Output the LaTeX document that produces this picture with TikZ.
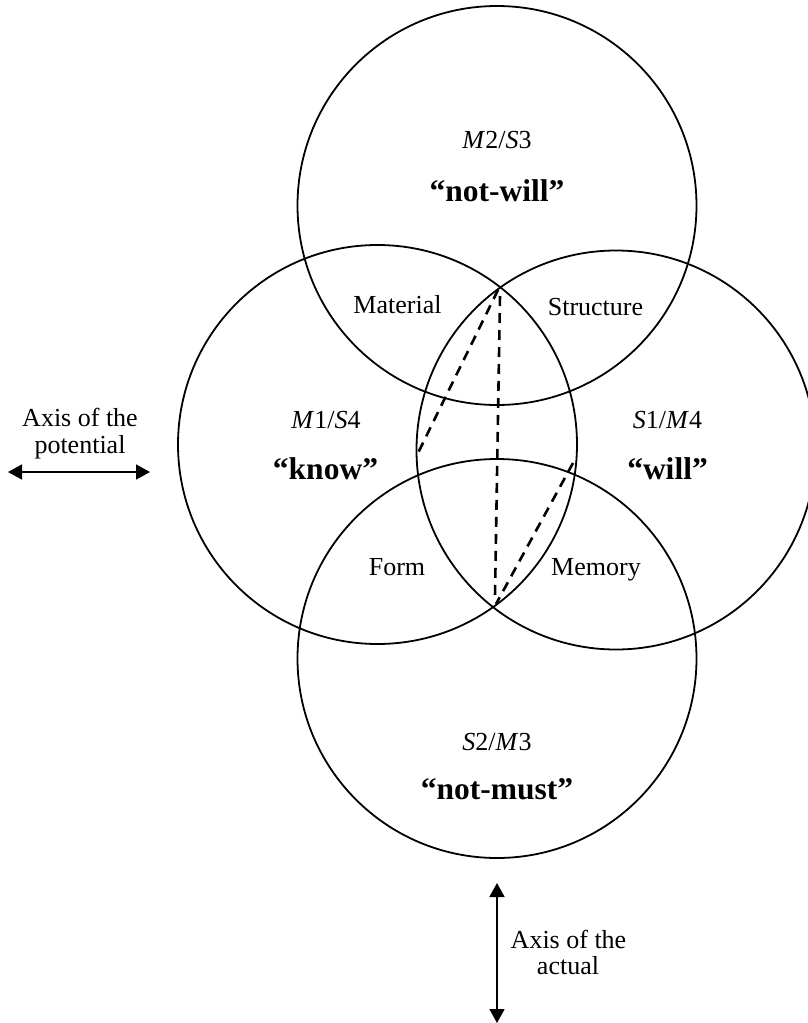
\documentclass[tikz,border=0pt]{standalone}
\usepackage{fontspec}
\setmainfont{Liberation Serif}
\usetikzlibrary{arrows.meta}
\begin{document}
\begin{tikzpicture}[x=1pt,y=-1pt,
  ring/.style={circle,draw,line width=1.8pt,minimum size=399pt,inner sep=0pt},
  lbl/.style={font=\fontsize{26}{26}\selectfont,anchor=base,inner sep=0pt},
  word/.style={font=\fontsize{31.5}{32}\selectfont\bfseries,anchor=base,inner sep=0pt},
  guide/.style={line width=2.6pt,dash pattern=on 10pt off 7pt},
  axis/.style={line width=1.8pt,{Triangle[length=14pt,width=15pt]}-{Triangle[length=14pt,width=15pt]}}
]
\useasboundingbox (0,0) rectangle (808,1023);

% the four circles
\node[ring] (top)    at (497,205.5) {};
\node[ring] (left)   at (377.5,444.5) {};
\node[ring] (right)  at (616,450) {};
\node[ring] (bottom) at (497,658.5) {};

% circle labels
\node[lbl]  (tlab) at (497,148) {\textit{M}2/\textit{S}3};
\node[word] (twrd) at (497,201) {“not-will”};
\node[lbl]  (llab) at (326,428) {\textit{M}1/\textit{S}4};
\node[word] (lwrd) at (325.5,479) {“know”};
\node[lbl]  (rlab) at (667.5,428) {\textit{S}1/\textit{M}4};
\node[word] (rwrd) at (667.5,479) {“will”};
\node[lbl]  (blab) at (497,750) {\textit{S}2/\textit{M}3};
\node[word] (bwrd) at (497,799) {“not-must”};

% overlap labels
\node[lbl] (mat)  at (397.5,313) {Material};
\node[lbl] (str)  at (595.5,315) {Structure};
\node[lbl] (frm)  at (397,575) {Form};
\node[lbl] (mem)  at (596,575) {Memory};

% dashed guides inside the central lens
\coordinate (lt) at (498,290);
\coordinate (lm) at (418,453);
\coordinate (vt) at (500,296);
\coordinate (vb) at (495,596);
\coordinate (rm) at (573,463);
\coordinate (rb) at (496,604);
\draw[guide] (lt) -- (lm);
\draw[guide] (vt) -- (vb);
\draw[guide] (rm) -- (rb);

% axis of the potential
\node[lbl] (pa1) at (80,426) {Axis of the};
\node[lbl] (pa2) at (80,453) {potential};
\coordinate (pl) at (8,472);
\coordinate (pr) at (150,472);
\draw[axis] (pl) -- (pr);

% axis of the actual
\node[lbl] (aa1) at (568.5,948) {Axis of the};
\node[lbl] (aa2) at (568,974) {actual};
\coordinate (at) at (497,883);
\coordinate (ab) at (497,1023);
\draw[axis] (at) -- (ab);
\end{tikzpicture}
\end{document}
